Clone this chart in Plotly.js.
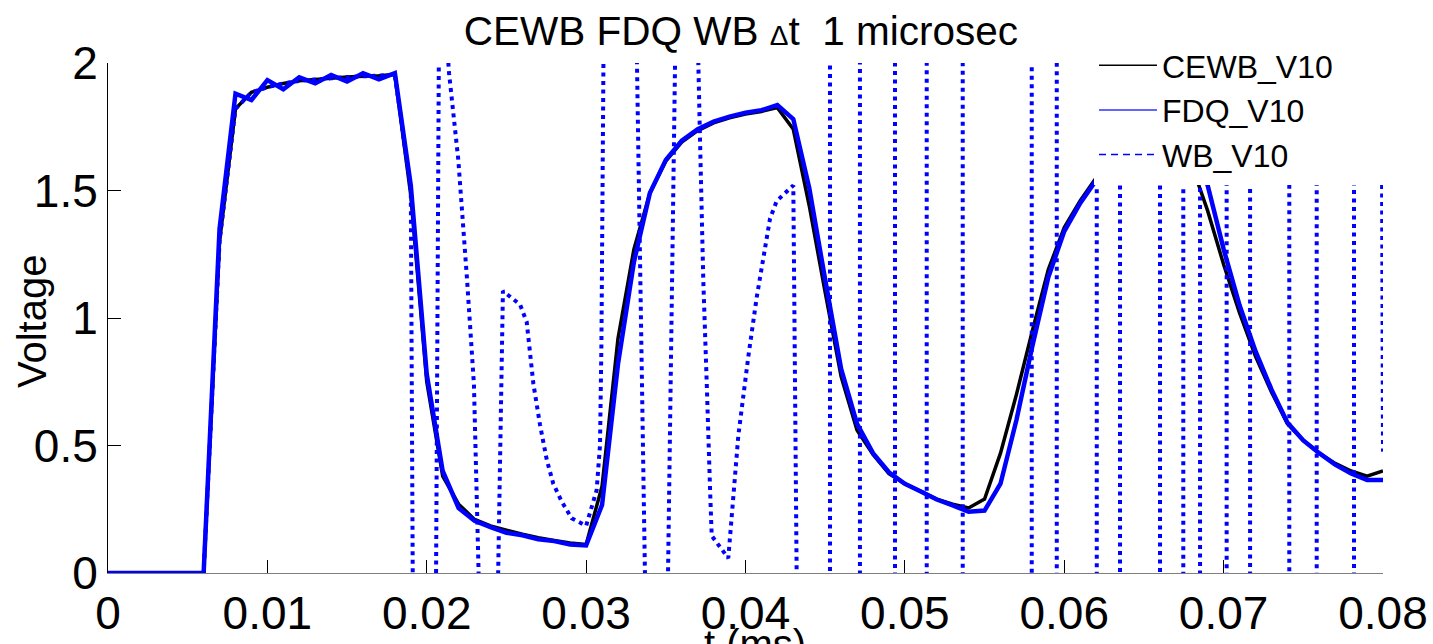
<!DOCTYPE html>
<html><head><meta charset="utf-8">
<script src="https://cdn.plot.ly/plotly-3.0.1.min.js"></script>
<style>html,body{margin:0;padding:0;background:#fff;}#chart{width:1433px;height:644px;}</style>
</head><body><div id="chart"></div>
<script>
// time grid (ms)
const tGrid = [0,0.001,0.002,0.003,0.004,0.005,0.006,0.007,0.008,0.009,0.010,0.011,0.012,0.013,0.014,0.015,0.016,0.017,0.018,0.019,
0.020,0.021,0.022,0.023,0.024,0.025,0.026,0.027,0.028,0.029,0.030,0.031,0.032,0.033,0.034,0.035,0.036,0.037,0.038,0.039,
0.040,0.041,0.042,0.043,0.044,0.045,0.046,0.047,0.048,0.049,0.050,0.051,0.052,0.053,0.054,0.055,0.056,0.057,0.058,0.059,
0.060,0.061,0.062,0.063,0.064,0.065,0.066,0.067,0.068,0.069,0.070,0.071,0.072,0.073,0.074,0.075,0.076,0.077,0.078,0.079,0.080];

const cewbV10 = [0,0,0,0,0,0,0,1.30,1.82,1.885,1.905,1.92,1.93,1.935,1.94,1.945,1.948,1.95,1.955,1.48,
0.75,0.38,0.27,0.21,0.185,0.168,0.152,0.138,0.128,0.118,0.112,0.34,0.92,1.27,1.49,1.615,1.69,1.735,1.765,1.785,
1.80,1.81,1.825,1.74,1.44,1.10,0.77,0.56,0.465,0.39,0.35,0.32,0.29,0.27,0.255,0.29,0.47,0.70,0.95,1.19,
1.355,1.46,1.55,1.63,1.69,1.73,1.75,1.72,1.60,1.42,1.21,1.02,0.85,0.71,0.585,0.52,0.47,0.43,0.40,0.38,0.40];

const fdqV10 = [0,0,0,0,0,0,0,1.35,1.88,1.855,1.933,1.897,1.944,1.92,1.953,1.927,1.96,1.936,1.96,1.52,
0.78,0.40,0.255,0.205,0.18,0.158,0.148,0.132,0.125,0.112,0.108,0.267,0.82,1.22,1.49,1.62,1.695,1.74,1.77,1.79,
1.805,1.815,1.835,1.78,1.51,1.15,0.80,0.585,0.47,0.395,0.35,0.32,0.288,0.265,0.24,0.245,0.35,0.60,0.89,1.16,
1.34,1.45,1.54,1.63,1.71,1.75,1.77,1.75,1.66,1.52,1.27,1.05,0.87,0.72,0.59,0.52,0.47,0.425,0.39,0.365,0.365];

// WB series (unstable, swings far outside the axis range)
const wbT = [0,0.001,0.002,0.003,0.004,0.005,0.006,0.007,0.008,0.009,0.010,0.011,0.012,0.013,0.014,0.015,0.016,0.017,0.018,0.019,
0.0192,0.0205,0.0208,0.0214,0.02198,0.02253,0.02296,0.02323,0.02335,
0.0244,0.02478,0.02585,0.02627,0.02669,0.02711,0.02753,0.02794,0.02847,0.02909,0.0300,0.03066,0.03087,0.03096,0.03112,
0.033115,0.033765,0.035074,0.035646,
0.036934,0.03704,0.03715,0.03735,0.03757,0.03777,0.03788,0.03892,0.03955,0.04018,0.0407,0.04154,0.04196,0.043,0.04325,
0.0453,0.0453,0.04718,0.04718,0.04938,0.04938,0.05137,0.05137,0.05363,0.05363,0.05796,0.05796,0.05953,0.05953,
0.06204,0.06204,0.0635,0.0635,0.06601,0.06601,0.06747,0.06747,0.06852,0.06852,0.07019,0.07019,0.07166,0.07166,
0.07412,0.07412,0.07584,0.07584,0.07818,0.07818,0.0799,0.080];
const wbV10 = [0,0,0,0,0,0,0,1.30,1.82,1.885,1.905,1.92,1.93,1.935,1.94,1.945,1.948,1.95,1.955,1.50,
-1.0,-1.0,2.5,1.96,1.62,1.15,0.74,0.06,-0.25,
-0.3,1.106,1.053,0.985,0.742,0.58,0.444,0.35,0.28,0.215,0.185,0.325,0.5,0.9,2.3,
2.3,-0.3,-0.3,2.3,
2.3,2.0,1.69,1.15,0.74,0.34,0.146,0.058,0.539,0.85,1.08,1.39,1.459,1.52,-0.3,
-0.3,2.3,2.3,-0.3,-0.3,2.3,2.3,-0.3,-0.3,2.3,2.3,-0.3,-0.3,2.3,
2.3,-0.3,-0.3,2.3,2.3,-0.3,-0.3,2.3,2.3,-0.3,-0.3,2.3,2.3,-0.3,
-0.3,2.3,2.3,-0.3,-0.3,2.3,2.3,0.476];

const seriesNames = ['CEWB_V10','FDQ_V10','WB_V10'];
const xTickVals = [0,0.01,0.02,0.03,0.04,0.05,0.06,0.07,0.08];
const xTickText = ['0','0.01','0.02','0.03','0.04','0.05','0.06','0.07','0.08'];
const yTickVals = [0,0.5,1,1.5,2];
const yTickText = ['0','0.5','1','1.5','2'];
const xAxisTitle = 't (ms)';
const yAxisTitle = 'Voltage';

const traces = [
  {x:tGrid, y:cewbV10, type:'scatter', mode:'lines', showlegend:false, line:{color:'#000000', width:3.5, simplify:false}},
  {x:tGrid, y:fdqV10, type:'scatter', mode:'lines', showlegend:false, line:{color:'#0000ff', width:4.5, simplify:false}},
  {x:wbT, y:wbV10, type:'scatter', mode:'lines', showlegend:false, line:{color:'#0000ff', width:4, dash:'4px,4.5px', simplify:false}},
  // legend entries
  {x:[null], y:[null], type:'scatter', mode:'lines', name:seriesNames[0], line:{color:'#000000', width:1.5}},
  {x:[null], y:[null], type:'scatter', mode:'lines', name:seriesNames[1], line:{color:'#3030ff', width:1.5}},
  {x:[null], y:[null], type:'scatter', mode:'lines', name:seriesNames[2], line:{color:'#0000ff', width:1.5, dash:'7px,5px'}}
];

const layout = {
  width:1433, height:644,
  margin:{l:108, r:50, t:63, b:71, pad:0},
  paper_bgcolor:'#ffffff', plot_bgcolor:'#ffffff',
  font:{family:'Liberation Sans, Arial, sans-serif', color:'#000000'},
  title:{text:'CEWB FDQ WB <span style="font-size:28px">\u0394</span>t\u00a0\u00a01 microsec', font:{size:40.5, color:'#000'},
         x:0.5171, xref:'container', xanchor:'center', y:1-31/644, yref:'container', yanchor:'middle'},
  xaxis:{range:[0,0.08], tickmode:'array', tickvals:xTickVals, ticktext:xTickText, ticks:'inside', ticklen:13, tickwidth:1, tickcolor:'#000',
         showline:true, linecolor:'#7f7f7f', linewidth:1, showgrid:false, zeroline:false, tickfont:{size:46}, fixedrange:true},
  yaxis:{range:[0,2], tickmode:'array', tickvals:yTickVals, ticktext:yTickText, ticks:'inside', ticklen:13, tickwidth:1, tickcolor:'#000',
         showline:true, linecolor:'#000', linewidth:1, showgrid:false, zeroline:false, tickfont:{size:46}, fixedrange:true},
  annotations:[
    {text:xAxisTitle, xref:'paper', yref:'paper', x:(755-108)/1275, y:(573-620)/510, xanchor:'center', yanchor:'top',
     showarrow:false, font:{size:40}},
    {text:yAxisTitle, xref:'paper', yref:'paper', x:(32-108)/1275, y:(573-322)/510, xanchor:'center', yanchor:'middle',
     textangle:-90, showarrow:false, font:{size:40}}
  ],
  legend:{x:(1094-108)/1275, y:(573-38)/510, xanchor:'left', yanchor:'top', bgcolor:'rgba(0,0,0,0)', borderwidth:0,
          font:{size:32}, itemwidth:58, tracegroupgap:0},
  shapes:[{type:'rect', xref:'paper', yref:'paper', x0:(1094-108)/1275, x1:1.06, y0:(573-185)/510, y1:1.2,
           fillcolor:'#ffffff', line:{width:0}, layer:'above'}],
  showlegend:true
};

Plotly.newPlot('chart', traces, layout, {displayModeBar:false, staticPlot:true});
</script>
</body></html>
